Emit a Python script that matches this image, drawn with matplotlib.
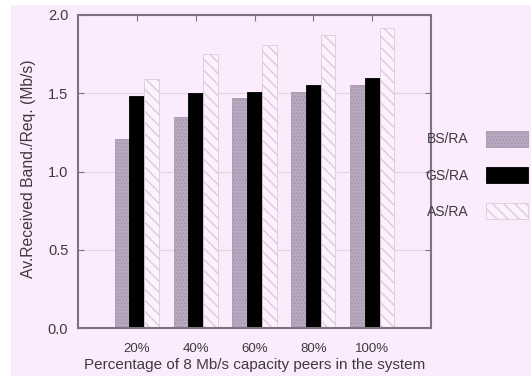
import numpy as np
import matplotlib.pyplot as plt
import matplotlib.patches as mpatches

plt.rcParams['font.family'] = ['Liberation Sans', 'DejaVu Sans']
plt.rcParams['hatch.linewidth'] = 1.0

categories = ['20%', '40%', '60%', '80%', '100%']
bs_ra = [1.21, 1.35, 1.47, 1.51, 1.55]
gs_ra = [1.48, 1.50, 1.51, 1.55, 1.60]
as_ra = [1.59, 1.75, 1.81, 1.87, 1.92]

bg = '#fcebfc'
frame = '#7d727f'
txt = '#3e3a40'

fig = plt.figure(figsize=(5.31, 3.76), dpi=100, facecolor='white')
# pink paper with a thin white strip at top and left, as in the scan
fig.patches.append(mpatches.Rectangle((11 / 531, 0), 1, 1 - 5 / 376,
                                      transform=fig.transFigure,
                                      facecolor=bg, edgecolor='none', zorder=-5))
ax = fig.add_axes([78 / 531, 1 - 328 / 376, 353 / 531, 313 / 376])
ax.set_facecolor(bg)

x = np.arange(1, len(categories) + 1)
w = 0.25
b1 = ax.bar(x - w, bs_ra, w, color='#b9a9c1', edgecolor='#a797ae',
            hatch='.....', linewidth=0.6, label='BS/RA', zorder=2)
b2 = ax.bar(x, gs_ra, w, color='black', edgecolor='black',
            linewidth=0.6, label='GS/RA', zorder=2)
b3 = ax.bar(x + w, as_ra, w, color='#fdf1fd', edgecolor='#d9cbd9',
            hatch='\\\\\\', linewidth=0.6, label='AS/RA', zorder=2)

ax.set_xlim(0, 6)
ax.set_ylim(0, 2.0)
ax.set_xticks(x)
ax.set_xticklabels(categories)
ax.set_yticks([0, 0.5, 1.0, 1.5, 2.0])
ax.set_yticklabels(['0.0', '0.5', '1.0', '1.5', '2.0'])
ax.yaxis.grid(True, color='#e3d5e3', linewidth=0.8, zorder=0)
ax.set_axisbelow(True)

ax.tick_params(axis='both', direction='in', length=4, color=frame,
               labelcolor=txt, top=True, right=True)
ax.tick_params(axis='y', pad=7, labelsize=10.5)
ax.tick_params(axis='x', pad=11, labelsize=9.5)
for s in ax.spines.values():
    s.set_color(frame)
    s.set_linewidth(1.5)

ax.set_xlabel('Percentage of 8 Mb/s capacity peers in the system',
              fontsize=11, color=txt)
ax.xaxis.set_label_coords(0.5, -0.095)
ax.set_ylabel('Av.Received Band./Req. (Mb/s)', fontsize=11.3, color=txt)
ax.yaxis.set_label_coords(-0.12, 0.51)

fig.legend(handles=[b1, b2, b3], loc='center right',
           bbox_to_anchor=(528 / 531, 1 - 175 / 376), frameon=False,
           markerfirst=False, fontsize=10, labelcolor=txt,
           handlelength=3.0, handleheight=1.4, handletextpad=1.3,
           labelspacing=1.45, borderpad=0, borderaxespad=0)

fig.savefig('out.png', dpi=100, facecolor=fig.get_facecolor())
